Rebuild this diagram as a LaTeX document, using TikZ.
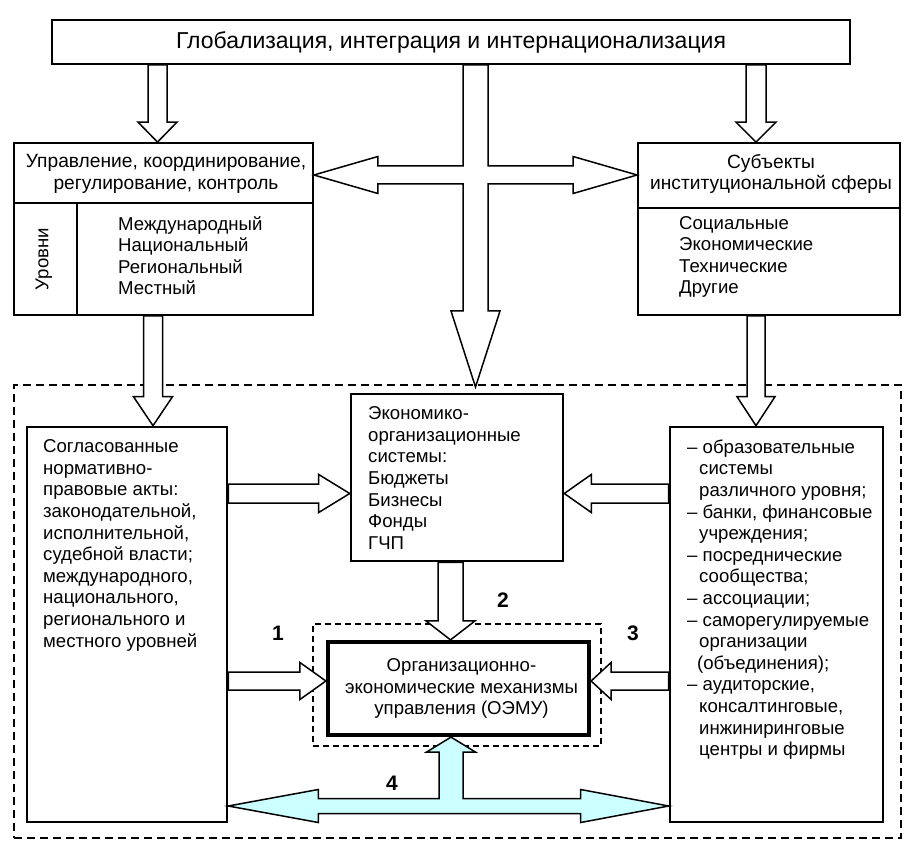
\documentclass[tikz,border=0pt]{standalone}
\usepackage{fontspec}
\setmainfont{Liberation Sans}
\usetikzlibrary{calc}
\definecolor{lcyan}{RGB}{204,255,255}
\tikzset{
  box/.style={draw, line width=1.8pt, inner sep=0pt, fill=white},
  bbox/.style={draw, line width=2.6pt, inner sep=0pt, fill=white},
  obox/.style={draw, line width=4.2pt, inner sep=0pt, fill=white},
  odash/.style={draw, line width=2pt, dash pattern=on 8pt off 5pt, inner sep=0pt},
  idash/.style={draw, line width=1.5pt, dash pattern=on 6pt off 4pt, inner sep=0pt},
  barrow/.style={draw, line width=1.5pt, fill=white, line join=miter},
  carrow/.style={draw, line width=1.5pt, fill=lcyan, line join=miter},
  divline/.style={line width=1.8pt},
  txt/.style={inner sep=0pt, align=left, font=\fontsize{18.6}{21.6}\selectfont},
  ctxt/.style={inner sep=0pt, align=center, font=\fontsize{18.6}{21.6}\selectfont},
  htxt/.style={inner sep=0pt, align=center, font=\fontsize{19.2}{21.8}\selectfont},
  num/.style={inner sep=0pt, font=\fontsize{21}{24}\selectfont\bfseries}
}
\newcommand\DArr[5]{%
  \draw[barrow] let \p1=(#1), \p2=(#2) in
  (\x2-#3pt,\y1) -- (\x2+#3pt,\y1) -- (\x2+#3pt,\y2+#5pt) -- (\x2+#4pt,\y2+#5pt)
  -- (\x2,\y2) -- (\x2-#4pt,\y2+#5pt) -- (\x2-#3pt,\y2+#5pt) -- cycle;}
\newcommand\RArr[5]{%
  \draw[barrow] let \p1=(#1), \p2=(#2) in
  (\x1,\y2+#3pt) -- (\x2-#5pt,\y2+#3pt) -- (\x2-#5pt,\y2+#4pt) -- (\x2,\y2)
  -- (\x2-#5pt,\y2-#4pt) -- (\x2-#5pt,\y2-#3pt) -- (\x1,\y2-#3pt) -- cycle;}
\newcommand\LArr[5]{%
  \draw[barrow] let \p1=(#1), \p2=(#2) in
  (\x1,\y2+#3pt) -- (\x2+#5pt,\y2+#3pt) -- (\x2+#5pt,\y2+#4pt) -- (\x2,\y2)
  -- (\x2+#5pt,\y2-#4pt) -- (\x2+#5pt,\y2-#3pt) -- (\x1,\y2-#3pt) -- cycle;}
\begin{document}
\begin{tikzpicture}[x=1pt,y=-1pt]
\fill[white] (0,0) rectangle (913,850);
\useasboundingbox (0,0) rectangle (913,850);
% helper coordinates
\coordinate (xL) at (157.5,0);
\coordinate (xR) at (756,0);
\coordinate (xLL) at (153,0);
\coordinate (xM) at (475.5,0);
\coordinate (x2) at (450.5,0);
\coordinate (xC) at (451,0);
\coordinate (xV) at (77,0);
\coordinate (yA) at (0,493.5);
\coordinate (yB) at (0,681);
\coordinate (yC) at (0,175);
\coordinate (yH) at (0,806);
\coordinate (yD) at (0,203);
\coordinate (yE) at (0,208);
% dashed frames
\node[odash, minimum width=887pt, minimum height=453pt] (outer) at (457.5,611.5) {};
\node[idash, minimum width=288pt, minimum height=122pt] (inner) at (457,685) {};
% boxes
\node[box, minimum width=798pt, minimum height=44pt, font=\fontsize{23}{27}\selectfont] (top) at (451,42) {Глобализация, интеграция и интернационализация};
\node[box, minimum width=299pt, minimum height=172pt] (ubl) at (163.5,229) {};
\node[box, minimum width=262pt, minimum height=172pt] (ubr) at (769,229) {};
\node[bbox, minimum width=200pt, minimum height=395pt] (llb) at (127,624.5) {};
\node[bbox, minimum width=212pt, minimum height=167pt] (cb) at (457,477.5) {};
\node[bbox, minimum width=213pt, minimum height=395pt] (lrb) at (776.5,624.5) {};
\node[obox, minimum width=261pt, minimum height=93pt] (oemu) at (458.5,688.5) {};
% dividers
\draw[divline] (ubl.west |- yD) -- (ubl.east |- yD);
\draw[divline] (xV |- yD) -- (xV |- ubl.south);
\draw[divline] (ubr.west |- yE) -- (ubr.east |- yE);
% texts
\node[htxt] (t1) at (166,174) {Управление, координирование,\\регулирование, контроль};
\node[txt, anchor=north west] (t2) at (118,216) {Международный\\Национальный\\Региональный\\Местный};
\node[ctxt, rotate=90] (t3) at (44,259) {Уровни};
\node[htxt] (t4) at (771,174) {Субъекты\\институциональной сферы};
\node[txt, anchor=north west] (t5) at (679,216) {Социальные\\Экономические\\Технические\\Другие};
\node[txt, anchor=north west] (t6) at (43,439.5) {Согласованные\\нормативно-\\правовые акты:\\законодательной,\\исполнительной,\\судебной власти;\\международного,\\национального,\\регионального и\\местного уровней};
\node[txt, anchor=north west] (t7) at (368,406.5) {Экономико-\\организационные\\системы:\\Бюджеты\\Бизнесы\\Фонды\\ГЧП};
\node[txt, anchor=north west] (t8) at (687,439.5) {– образовательные\\\hspace*{12pt}системы\\\hspace*{12pt}различного уровня;\\– банки, финансовые\\\hspace*{12pt}учреждения;\\– посреднические\\\hspace*{12pt}сообщества;\\– ассоциации;\\– саморегулируемые\\\hspace*{12pt}организации\\\hspace*{10pt}(объединения);\\– аудиторские,\\\hspace*{12pt}консалтинговые,\\\hspace*{12pt}инжиниринговые\\\hspace*{12pt}центры и фирмы};
\node[ctxt] (t9) at ([xshift=3pt]oemu.center) {Организационно-\\экономические механизмы\\управления (ОЭМУ)};
% numbers
\node[num] (n1) at (278,633) {1};
\node[num] (n2) at (503,600) {2};
\node[num] (n3) at (633,633) {3};
\node[num] (n4) at (392,783) {4};
% block arrows
\DArr{top.south -| xL}{ubl.north -| xL}{9.5}{19.5}{20}
\DArr{top.south -| xR}{ubr.north -| xR}{10}{20}{20}
\DArr{ubl.south -| xLL}{llb.north -| xLL}{9.5}{19.5}{29}
\DArr{ubr.south -| xR}{lrb.north -| xR}{9}{19}{29}
\RArr{llb.east |- yA}{cb.west |- yA}{9.5}{19}{31}
\LArr{lrb.west |- yA}{cb.east |- yA}{9.5}{19}{27}
\RArr{llb.east |- yB}{oemu.west |- yB}{9}{18.5}{26}
\LArr{lrb.west |- yB}{oemu.east |- yB}{9}{18.5}{20}
\DArr{cb.south -| x2}{oemu.north -| x2}{12.5}{24.5}{19}
% cross arrow
\coordinate (tipM) at ($(xM |- outer.north)+(0,3)$);
\draw[barrow] let \p1=(top.south -| xM), \p2=(ubl.east |- yC), \p3=(ubr.west |- yC), \p4=(tipM) in
  (\x1-12.5pt,\y1) -- (\x1+12.5pt,\y1) -- (\x1+12.5pt,\y2+9pt) -- (\x3-64pt,\y2+9pt)
  -- (\x3-64pt,\y2+18.5pt) -- (\x3,\y3) -- (\x3-64pt,\y2-18.5pt) -- (\x3-64pt,\y2-9pt)
  -- (\x1+12.5pt,\y2-9pt) -- (\x1+12.5pt,\y4+76pt) -- (\x1+24.5pt,\y4+76pt) -- (\x4,\y4)
  -- (\x1-24.5pt,\y4+76pt) -- (\x1-12.5pt,\y4+76pt) -- (\x1-12.5pt,\y2-9pt)
  -- (\x2+64pt,\y2-9pt) -- (\x2+64pt,\y2-18.5pt) -- (\x2,\y2) -- (\x2+64pt,\y2+18.5pt)
  -- (\x2+64pt,\y2+9pt) -- (\x1-12.5pt,\y2+9pt) -- cycle;
% cyan arrow
\draw[carrow] let \p1=(oemu.south -| xC), \p2=(llb.east |- yH), \p3=(lrb.west |- yH) in
  (\x1,\y1) -- (\x1+24.5pt,\y1-15pt) -- (\x1+12pt,\y1-15pt) -- (\x1+12pt,\y2+7.5pt)
  -- (\x3-88pt,\y2+7.5pt) -- (\x3-88pt,\y2+16.5pt) -- (\x3,\y3) -- (\x3-88pt,\y2-16.5pt)
  -- (\x3-88pt,\y2-7.5pt) -- (\x2+90pt,\y2-7.5pt) -- (\x2+90pt,\y2-16.5pt) -- (\x2,\y2)
  -- (\x2+90pt,\y2+16.5pt) -- (\x2+90pt,\y2+7.5pt) -- (\x1-12pt,\y2+7.5pt)
  -- (\x1-12pt,\y1-15pt) -- (\x1-24.5pt,\y1-15pt) -- cycle;
\end{tikzpicture}
\end{document}
